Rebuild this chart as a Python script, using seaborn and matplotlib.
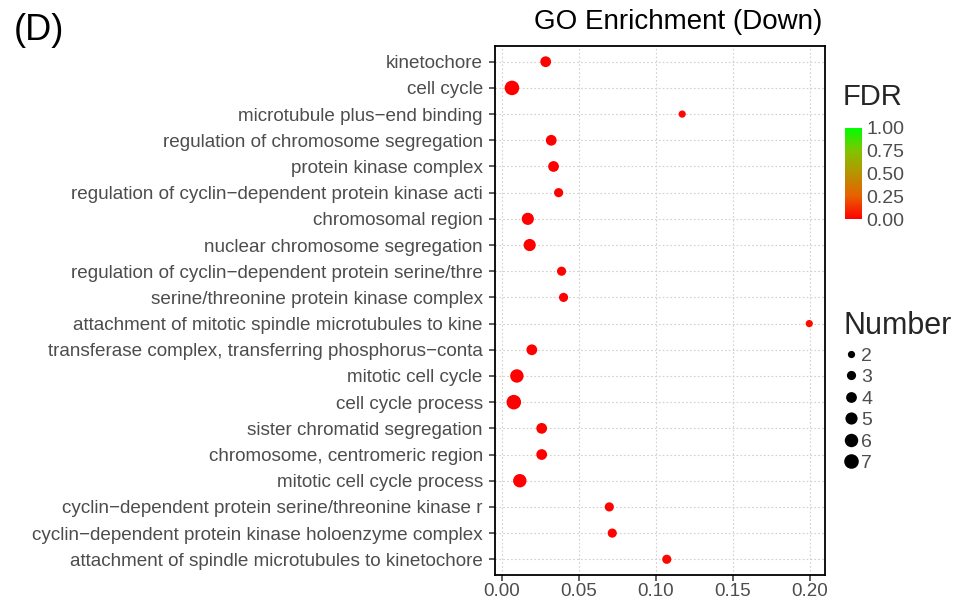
import matplotlib
matplotlib.use("Agg")
import matplotlib.pyplot as plt
import seaborn as sns
import pandas as pd
import numpy as np
from matplotlib.colors import LinearSegmentedColormap, Normalize
from matplotlib.lines import Line2D
import matplotlib.cm as cm

M = "\u2212"
terms = [
    "kinetochore",
    "cell cycle",
    f"microtubule plus{M}end binding",
    "regulation of chromosome segregation",
    "protein kinase complex",
    f"regulation of cyclin{M}dependent protein kinase acti",
    "chromosomal region",
    "nuclear chromosome segregation",
    f"regulation of cyclin{M}dependent protein serine/thre",
    "serine/threonine protein kinase complex",
    "attachment of mitotic spindle microtubules to kine",
    f"transferase complex, transferring phosphorus{M}conta",
    "mitotic cell cycle",
    "cell cycle process",
    "sister chromatid segregation",
    "chromosome, centromeric region",
    "mitotic cell cycle process",
    f"cyclin{M}dependent protein serine/threonine kinase r",
    f"cyclin{M}dependent protein kinase holoenzyme complex",
    "attachment of spindle microtubules to kinetochore",
]
rich_factor = [0.0284, 0.0065, 0.117, 0.032, 0.0335, 0.0368, 0.0168, 0.018,
               0.0387, 0.040, 0.1995, 0.0194, 0.0097, 0.0077, 0.0258, 0.0258,
               0.0116, 0.0697, 0.0716, 0.107]
number = [4, 7, 2, 4, 4, 3, 5, 5, 3, 3, 2, 4, 6, 7, 4, 4, 6, 3, 3, 3]
fdr = [0.001, 0.0001, 0.02, 0.002, 0.002, 0.005, 0.0005, 0.0006, 0.006, 0.006,
       0.03, 0.003, 0.0002, 0.0001, 0.001, 0.001, 0.0003, 0.01, 0.01, 0.02]
size_levels = [2, 3, 4, 5, 6, 7]
fdr_ticks = [0.00, 0.25, 0.50, 0.75, 1.00]

df = pd.DataFrame({"term": terms, "rich": rich_factor, "Number": number, "FDR": fdr})

sns.set_theme(style="white")
plt.rcParams["font.family"] = ["Liberation Sans", "DejaVu Sans"]

cmap = LinearSegmentedColormap.from_list(
    "rg", ["#FF0000", "#E86000", "#B89300", "#80C400", "#00FF00"])
norm = Normalize(0, 1)

fig = plt.figure(figsize=(9.68, 6.01), dpi=100)
ax = fig.add_axes([495 / 968, 26 / 601, 330 / 968, 529 / 601])

smin, smax = 27, 110
def size_of(n):
    return smin + (smax - smin) * (n - 2) / 5

sns.scatterplot(data=df, x="rich", y="term", hue="FDR", hue_norm=norm, palette=cmap,
                size="Number", sizes=(smin, smax), size_norm=(2, 7),
                linewidth=0, legend=False, ax=ax, zorder=3)

ax.set_xlim(-0.0045, 0.2097)
ax.set_ylim(len(terms) - 1 + 0.6, -0.6)
ax.set_xticks([0.0, 0.05, 0.10, 0.15, 0.20])
ax.set_xticklabels(["0.00", "0.05", "0.10", "0.15", "0.20"])
ax.set_xlabel("")
ax.set_ylabel("")
ax.grid(True, linestyle=(0, (1.5, 2)), color="#D0D0D0", linewidth=0.8)
for s in ax.spines.values():
    s.set_color("black")
    s.set_linewidth(1.3)
ax.tick_params(axis="both", which="both", length=4.3, width=1.1, color="#333333",
               labelcolor="#4D4D4D", bottom=True, left=True)
ax.tick_params(axis="y", labelsize=13.6, pad=4.5)
ax.tick_params(axis="x", labelsize=13.5, pad=1.5)
ax.set_title("")

fig.text(678 / 968, 1 - 22 / 601, "GO Enrichment (Down)", fontsize=20,
         color="black", ha="center", va="center")
fig.text(0.014, 1 - 30 / 601, "(D)", fontsize=26, color="black", ha="left", va="center")

# colorbar
cax = fig.add_axes([845 / 968, 1 - 219 / 601, 17 / 968, 91 / 601])
cb = fig.colorbar(cm.ScalarMappable(norm=norm, cmap=cmap), cax=cax)
cb.set_ticks(fdr_ticks)
cb.set_ticklabels([f"{t:.2f}" for t in fdr_ticks])
cb.outline.set_visible(False)
cax.tick_params(length=0, labelsize=14, labelcolor="#4D4D4D", pad=3)
fig.text(843 / 968, 1 - 97 / 601, "FDR", fontsize=21, ha="left", va="center")

# size legend
fig.text(844 / 968, 1 - 326 / 601, "Number", fontsize=22, ha="left", va="center")
handles = [Line2D([], [], marker="o", linestyle="", markersize=np.sqrt(size_of(n)),
                  markerfacecolor="black", markeredgewidth=0, color="black", label=str(n))
           for n in size_levels]
leg = fig.legend(handles=handles, loc="upper left",
                 bbox_to_anchor=(841 / 968, 1 - 347 / 601), frameon=False, fontsize=14,
                 handletextpad=0.05, labelspacing=0.2,
                 handlelength=1.0, borderaxespad=0, borderpad=0)
for t in leg.get_texts():
    t.set_color("#4D4D4D")

fig.savefig("out.png", dpi=100)
